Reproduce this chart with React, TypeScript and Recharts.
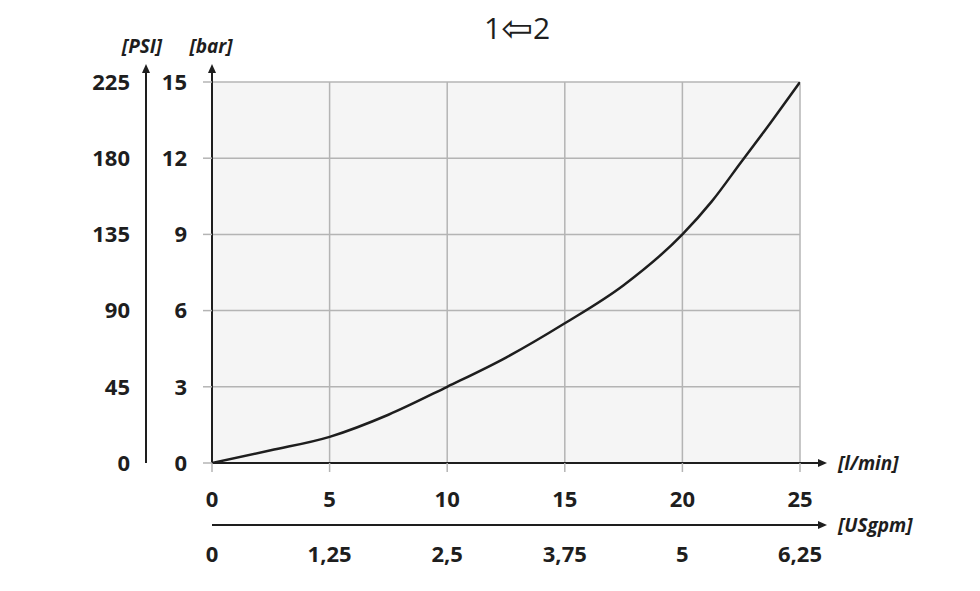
import { LineChart, Line, XAxis, YAxis, CartesianGrid } from 'recharts';

const flowLmin = [0, 2.5, 5, 7.5, 10, 12.5, 15, 17.5, 20, 21.25, 22.5, 23.75, 25];
const pressureBar = [0, 0.5, 1.03, 1.9, 3.0, 4.15, 5.5, 7.0, 9.0, 10.3, 11.85, 13.4, 15];

const lminTicks = [0, 5, 10, 15, 20, 25];
const gpmTicks = [0, 1.25, 2.5, 3.75, 5, 6.25];
const barTicks = [0, 3, 6, 9, 12, 15];
const psiTicks = [0, 45, 90, 135, 180, 225];

const data = flowLmin.map((q, i) => ({ q, gpm: q / 4, p: pressureBar[i] }));

const INK = '#1e1e1e';
const GRID = '#b4b4b4';
const FONT = '"Open Sans", "Noto Sans", sans-serif';

const tickStyle = { fill: INK, fontSize: 22, fontWeight: 700, fontFamily: FONT };

const UnitTag = (props: any) => {
  const { viewBox, text, dx = 0, dy = 0, anchor = 'middle' } = props;
  if (!viewBox) return null;
  return (
    <text
      x={viewBox.x + viewBox.width + dx}
      y={viewBox.y + dy}
      textAnchor={anchor}
      fill={INK}
      fontSize={19}
      fontWeight={700}
      fontStyle="italic"
      fontFamily={FONT}
    >
      {text}
    </text>
  );
};

export default function App() {
  return (
    <div style={{ position: 'absolute', left: 0, top: 0, width: 980, height: 591, background: '#fff' }}>
      <svg width={0} height={0} style={{ position: 'absolute' }}>
        <defs>
          <marker id="arrowX" markerUnits="userSpaceOnUse" markerWidth={30} markerHeight={10} refX={0} refY={5} orient="auto" overflow="visible">
            <path d="M0,5 H20" stroke={INK} strokeWidth={2} />
            <path d="M18,1 L27,5 L18,9 Z" fill={INK} />
          </marker>
          <marker id="arrowY" markerUnits="userSpaceOnUse" markerWidth={30} markerHeight={10} refX={0} refY={5} orient="auto-start-reverse" overflow="visible">
            <path d="M0,5 H11" stroke={INK} strokeWidth={2} />
            <path d="M9,1 L18,5 L9,9 Z" fill={INK} />
          </marker>
        </defs>
      </svg>

      <div
        style={{
          position: 'absolute',
          left: 0,
          width: 1034,
          top: 8,
          textAlign: 'center',
          fontFamily: FONT,
          fontSize: 30,
          color: INK,
          lineHeight: '40px',
        }}
      >
        1<span style={{ fontSize: 38, fontFamily: '"DejaVu Sans", sans-serif', verticalAlign: '-2px' }}>⇦</span>2
      </div>

      <LineChart width={980} height={591} data={data} margin={{ top: 82, right: 180, bottom: 16, left: 80 }}>
        <CartesianGrid xAxisId="a_lmin" yAxisId="a_bar" fill="#f5f5f5" stroke={GRID} strokeWidth={1.5} />
        <XAxis
          xAxisId="a_lmin"
          dataKey="q"
          type="number"
          domain={[0, 25]}
          ticks={lminTicks}
          allowDataOverflow
          height={62}
          tickSize={9}
          tickMargin={19}
          tickLine={{ stroke: GRID, strokeWidth: 1.5 }}
          axisLine={{ stroke: INK, strokeWidth: 2, markerEnd: 'url(#arrowX)' }}
          tick={tickStyle}
          label={<UnitTag text="[l/min]" dx={38} dy={7} anchor="start" />}
        />
        <XAxis
          xAxisId="b_gpm"
          dataKey="gpm"
          type="number"
          domain={[0, 6.25]}
          ticks={gpmTicks}
          allowDataOverflow
          height={50}
          tickSize={0}
          tickMargin={21}
          tickLine={false}
          tickFormatter={(v: number) => String(v).replace('.', ',')}
          axisLine={{ stroke: INK, strokeWidth: 2, markerEnd: 'url(#arrowX)' }}
          tick={tickStyle}
          label={<UnitTag text="[USgpm]" dx={38} dy={7} anchor="start" />}
        />
        <YAxis
          yAxisId="a_bar"
          type="number"
          domain={[0, 15]}
          ticks={barTicks}
          allowDataOverflow
          width={66}
          tickSize={9}
          tickMargin={16}
          tickLine={{ stroke: GRID, strokeWidth: 1.5 }}
          axisLine={{ stroke: INK, strokeWidth: 2, markerStart: 'url(#arrowY)' }}
          tick={tickStyle}
          label={<UnitTag text="[bar]" dx={-1} dy={-29} />}
        />
        <YAxis
          yAxisId="b_psi"
          type="number"
          domain={[0, 225]}
          ticks={psiTicks}
          allowDataOverflow
          width={66}
          tickSize={0}
          tickMargin={16}
          tickLine={false}
          axisLine={{ stroke: INK, strokeWidth: 2, markerStart: 'url(#arrowY)' }}
          tick={tickStyle}
          label={<UnitTag text="[PSI]" dx={-4} dy={-29} />}
        />
        <Line
          xAxisId="a_lmin"
          yAxisId="a_bar"
          dataKey="p"
          type="monotone"
          stroke={INK}
          strokeWidth={2.5}
          dot={false}
          isAnimationActive={false}
        />
      </LineChart>
    </div>
  );
}
